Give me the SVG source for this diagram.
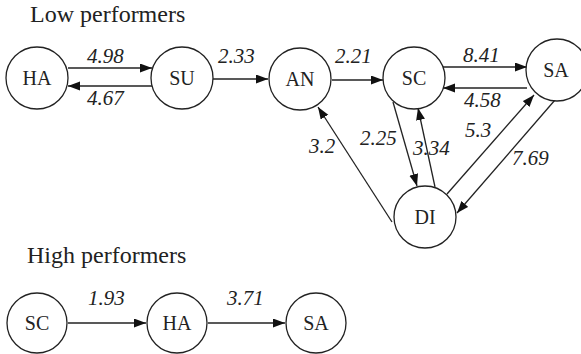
<svg xmlns="http://www.w3.org/2000/svg" width="581" height="354" viewBox="0 0 581 354">
<defs>
<style>
.node circle{fill:#fff;stroke:#222;stroke-width:1.3}
.node text{font-family:"Liberation Serif","Times New Roman",serif;font-size:20px;fill:#222;text-anchor:middle}
.title{font-family:"Liberation Serif","Times New Roman",serif;font-size:24px;fill:#222}
.edges line{stroke:#222;stroke-width:1.3;marker-end:url(#ah)}
.lbl{font-family:"Liberation Serif","Times New Roman",serif;font-style:italic;font-size:21px;fill:#222}
</style>
<marker id="ah" markerUnits="userSpaceOnUse" markerWidth="13" markerHeight="10" refX="12" refY="4.5" orient="auto">
<path d="M0,0 L12,4.5 L0,9 z" fill="#111"/>
</marker>
</defs>
<rect width="581" height="354" fill="#fff"/>
<text class="title" x="30" y="22">Low performers</text>
<text class="title" x="27" y="263">High performers</text>
<g class="edges">
<line x1="68" y1="68" x2="152" y2="68"/>
<line x1="152" y1="86" x2="68" y2="86"/>
<line x1="213" y1="79" x2="268" y2="79"/>
<line x1="332" y1="80" x2="383" y2="80"/>
<line x1="443" y1="67" x2="527" y2="67"/>
<line x1="527" y1="88" x2="443" y2="88"/>
<line x1="393" y1="102" x2="417" y2="186"/>
<line x1="435" y1="187" x2="418" y2="108"/>
<line x1="392" y1="222" x2="318" y2="107"/>
<line x1="447" y1="194" x2="534" y2="95"/>
<line x1="555" y1="100" x2="457" y2="213"/>
<line x1="68" y1="323" x2="146" y2="323"/>
<line x1="208" y1="323" x2="285" y2="323"/>
</g>
<g id="edge-labels">
<text class="lbl" x="87" y="63">4.98</text>
<text class="lbl" x="87" y="105">4.67</text>
<text class="lbl" x="218" y="63">2.33</text>
<text class="lbl" x="335" y="63">2.21</text>
<text class="lbl" x="463" y="62">8.41</text>
<text class="lbl" x="464" y="107">4.58</text>
<text class="lbl" x="360" y="145">2.25</text>
<text class="lbl" x="413" y="155">3.34</text>
<text class="lbl" x="309" y="153">3.2</text>
<text class="lbl" x="465" y="137">5.3</text>
<text class="lbl" x="512" y="165">7.69</text>
<text class="lbl" x="88" y="305">1.93</text>
<text class="lbl" x="227" y="305">3.71</text>
</g>
<g id="low-HA" class="node"><circle cx="37" cy="78" r="31"/><text x="37" y="85">HA</text></g>
<g id="low-SU" class="node"><circle cx="182" cy="78" r="31"/><text x="182" y="85">SU</text></g>
<g id="low-AN" class="node"><circle cx="300" cy="79" r="31"/><text x="300" y="86">AN</text></g>
<g id="low-SC" class="node"><circle cx="414" cy="78" r="31"/><text x="414" y="85">SC</text></g>
<g id="low-SA" class="node"><circle cx="557" cy="70" r="31"/><text x="556" y="77">SA</text></g>
<g id="low-DI" class="node"><circle cx="425" cy="217" r="31"/><text x="425" y="224">DI</text></g>
<g id="high-SC" class="node"><circle cx="37" cy="323" r="30"/><text x="37" y="330">SC</text></g>
<g id="high-HA" class="node"><circle cx="177" cy="323" r="30"/><text x="177" y="330">HA</text></g>
<g id="high-SA" class="node"><circle cx="316" cy="323" r="30"/><text x="316" y="330">SA</text></g>
</svg>
